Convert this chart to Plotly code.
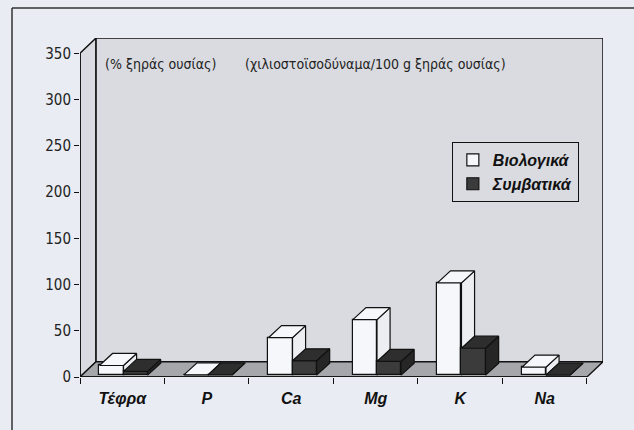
import plotly.graph_objects as go

# ---------------- data ----------------
categories = ["Τέφρα", "P", "Ca", "Mg", "K", "Na"]
organic = [10.45, 0.36, 40.5, 60.0, 99.7, 8.6]        # Βιολογικά
conventional = [4.04, 0.22, 15.5, 14.8, 29.1, 0.0]     # Συμβατικά
series_names = ["Βιολογικά", "Συμβατικά"]
y_ticks = [0, 50, 100, 150, 200, 250, 300, 350]
note_left = "(% ξηράς ουσίας)"
note_right = "(χιλιοστοϊσοδύναμα/100 g ξηράς ουσίας)"

# ---------------- style / geometry ----------------
YMAX = 350
DX, DY = 0.19, 16.5          # wall depth (axis units)
FX, FY = 0.02, 2.0           # bar front offset inside floor
BX, BY = 0.155, 13.0         # bar depth
W = 0.285                    # bar width (category units)
LEFTS = [0.21, 0.495]        # bar left offset within category
PAGE = "#e9ecf2"
WALL = "#d9dbe0"
FLOOR = "#a6a7aa"
FRONT = ["#f5f7fa", "#3b3b3b"]
TOP = ["#f5f7fa", "#2e2e2e"]
SIDE = ["#eceef2", "#262626"]
EDGE = "#111111"
narrow = "Liberation Sans Narrow, Arial Narrow, DejaVu Sans Condensed, sans-serif"
boldfont = "Liberation Sans, Arial, sans-serif"

n = len(categories)
fig = go.Figure()


def face_paths(values, left):
    tx, ty, sx, sy = [], [], [], []
    for i, v in enumerate(values):
        x0 = i + left + FX
        x1 = x0 + W
        y0 = FY
        y1 = FY + v
        tx += [x0, x1, x1 + BX, x0 + BX, x0, None]
        ty += [y1, y1, y1 + BY, y1 + BY, y1, None]
        sx += [x1, x1 + BX, x1 + BX, x1, x1, None]
        sy += [y0, y0 + BY, y1 + BY, y1, y0, None]
    return tx, ty, sx, sy


for k, (vals, name) in enumerate(zip([organic, conventional], series_names)):
    xa = "x" if k == 0 else "x2"
    ya = "y" if k == 0 else "y2"
    left = LEFTS[k]
    fig.add_trace(go.Bar(
        x=[i + left + FX for i in range(n)], y=vals, base=FY,
        width=W, offset=0, name=name,
        marker=dict(color=FRONT[k], line=dict(color=EDGE, width=1.2)),
        xaxis=xa, yaxis=ya, showlegend=True, hoverinfo="skip"))
    tx, ty, sx, sy = face_paths(vals, left)
    fig.add_trace(go.Scatter(x=sx, y=sy, mode="lines", fill="toself",
                             fillcolor=SIDE[k], line=dict(color=EDGE, width=1.2),
                             xaxis=xa, yaxis=ya, showlegend=False, hoverinfo="skip"))
    fig.add_trace(go.Scatter(x=tx, y=ty, mode="lines", fill="toself",
                             fillcolor=TOP[k], line=dict(color=EDGE, width=1.2),
                             xaxis=xa, yaxis=ya, showlegend=False, hoverinfo="skip"))

# walls & floor
shapes = [
    dict(type="path", xref="x", yref="y", layer="below",
         path=f"M 0 0 L 0 {YMAX} L {DX} {YMAX + DY} L {DX} {DY} Z",
         fillcolor=WALL, line=dict(color=EDGE, width=1.5)),
    dict(type="rect", xref="x", yref="y", layer="below",
         x0=DX, y0=DY, x1=n + DX, y1=YMAX + DY,
         fillcolor=WALL, line=dict(color=EDGE, width=1.5)),
    dict(type="path", xref="x", yref="y", layer="below",
         path=f"M 0 0 L {n} 0 L {n + DX} {DY} L {DX} {DY} Z",
         fillcolor=FLOOR, line=dict(color=EDGE, width=1.3)),
    dict(type="line", xref="x", yref="y", x0=0, y0=0, x1=0, y1=YMAX,
         line=dict(color=EDGE, width=1.5)),
    dict(type="line", xref="x", yref="y", x0=0, y0=0, x1=n, y1=0,
         line=dict(color=EDGE, width=1.5)),
    # outer frame (top & left edges)
    dict(type="line", xref="paper", yref="paper", x0=-0.13, y0=1.0885, x1=1.1, y1=1.0885,
         line=dict(color="#333", width=1.5)),
    dict(type="line", xref="paper", yref="paper", x0=-0.13, y0=1.0885, x1=-0.13, y1=-0.2,
         line=dict(color="#333", width=1.5)),
]

fig.update_layout(
    width=634, height=430,
    margin=dict(l=80, r=31, t=38, b=53),
    paper_bgcolor=PAGE, plot_bgcolor="rgba(0,0,0,0)",
    barmode="overlay", bargap=0,
    shapes=shapes,
    showlegend=True,
    legend=dict(x=0.711, y=0.693, xanchor="left", yanchor="top",
                bgcolor="rgba(0,0,0,0)", bordercolor=EDGE, borderwidth=1,
                font=dict(family=boldfont, size=16, color="#111", weight="bold", style="italic"),
                itemclick=False, itemdoubleclick=False),
    xaxis=dict(range=[0, n + DX], tickmode="array",
               tickvals=[i + 0.5 for i in range(n)], ticktext=categories,
               ticks="", showgrid=False, zeroline=False, showline=False,
               ticklabelstandoff=10, automargin=False,
               tickfont=dict(family=boldfont, size=16, color="#111", weight="bold", style="italic"),
               minor=dict(tickmode="array", tickvals=list(range(n + 1)), ticks="outside",
                          ticklen=6, tickcolor=EDGE, tickwidth=1.3, showgrid=False)),
    yaxis=dict(range=[0, YMAX + DY], tickmode="array", tickvals=y_ticks,
               ticks="outside", ticklen=5, tickcolor=EDGE, tickwidth=1.3,
               showgrid=False, zeroline=False, showline=False, automargin=False,
               tickfont=dict(family=narrow, size=15, color="#222")),
    xaxis2=dict(range=[0, n + DX], overlaying="x", visible=False),
    yaxis2=dict(range=[0, YMAX + DY], overlaying="y", visible=False),
    annotations=[
        dict(text=note_left, xref="paper", yref="paper", x=0.044, y=0.923,
             xanchor="left", yanchor="middle", showarrow=False,
             font=dict(family=narrow, size=14, color="#222")),
        dict(text=note_right, xref="paper", yref="paper", x=0.311, y=0.923,
             xanchor="left", yanchor="middle", showarrow=False,
             font=dict(family=narrow, size=14, color="#222")),
    ],
)

fig.write_html(
    "out.html",
    config={"displayModeBar": False},
    post_script="document.body.style.margin='0';document.body.style.background='#e9ecf2';",
)
